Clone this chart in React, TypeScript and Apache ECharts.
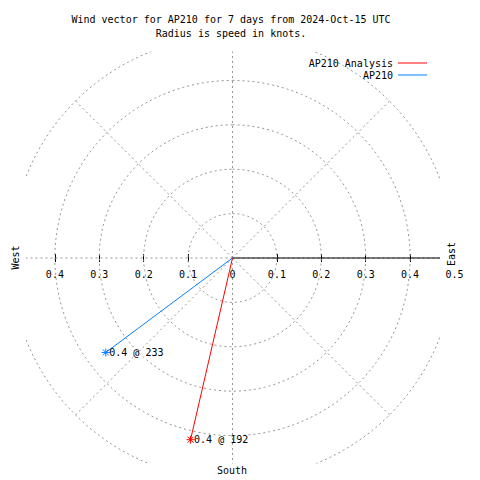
import React, { useEffect, useRef } from "react";
import * as echarts from "echarts";

const FONT = '"DejaVu Sans Mono", monospace';

const titleLines = [
  "Wind vector for AP210 for 7 days from 2024-Oct-15 UTC",
  "Radius is speed in knots.",
];
const seriesNames = ["AP210 Analysis", "AP210"];
const speeds = [0.42, 0.356];
const directions = [193, 233.3];
const pointLabels = ["0.4 @ 192", "0.4 @ 233"];
const seriesColors = ["#ff0000", "#0080ff"];
const ringRadii = [0.1, 0.2, 0.3, 0.4, 0.5];
const spokeAngles = [0, 45, 90, 135, 180, 225, 270, 315];
const tickLabelValues = [-0.4, -0.3, -0.2, -0.1, 0, 0.1, 0.2, 0.3, 0.4, 0.5];
const tickMarkValues = [-0.4, -0.3, -0.2, -0.1, 0.1, 0.2, 0.3, 0.4];
const compassLabels = ["West", "East", "South"];

const toRad = (d: number) => (d * Math.PI) / 180;

export default function App() {
  const ref = useRef<HTMLDivElement>(null);
  useEffect(() => {
    if (!ref.current) return;
    const chart = echarts.init(ref.current, null, { renderer: "svg" });

    const gridStyle = { color: "#959595", width: 1, type: [2, 3] as any };

    const ringSeries = ringRadii.map((r) => {
      const pts: number[][] = [];
      for (let a = 0; a <= 360; a += 2) {
        pts.push([r * Math.sin(toRad(a)), r * Math.cos(toRad(a))]);
      }
      return {
        type: "line",
        xAxisIndex: 0,
        yAxisIndex: 0,
        data: pts,
        showSymbol: false,
        silent: true,
        clip: true,
        lineStyle: gridStyle,
        z: 1,
      };
    });

    const spokeSeries = spokeAngles.map((a) => ({
      type: "line",
      xAxisIndex: 0,
      yAxisIndex: 0,
      data: [
        [0, 0],
        [0.5 * Math.sin(toRad(a)), 0.5 * Math.cos(toRad(a))],
      ],
      showSymbol: false,
      silent: true,
      clip: true,
      lineStyle: gridStyle,
      z: 1,
    }));

    const axisLineSeries = {
      type: "line",
      xAxisIndex: 0,
      yAxisIndex: 0,
      data: [
        [0, 0],
        [0.5, 0],
      ],
      showSymbol: false,
      silent: true,
      clip: true,
      lineStyle: { color: "#000", width: 1 },
      z: 2,
    };

    const dataSeries = seriesNames.map((name, i) => ({
      name,
      type: "line",
      coordinateSystem: "polar",
      polarIndex: 0,
      color: seriesColors[i],
      lineStyle: { color: seriesColors[i], width: 1 },
      symbol: "path://M4 0L4 8M0 4L8 4M1 1L7 7M1 7L7 1",
      symbolSize: 8,
      itemStyle: {
        color: seriesColors[i],
        borderColor: seriesColors[i],
        borderWidth: 1,
      },
      z: 5,
      data: [
        { value: [0, directions[i]], symbol: "none", label: { show: false } },
        {
          value: [speeds[i], directions[i]],
          label: {
            show: true,
            formatter: pointLabels[i],
            position: "right",
            distance: -1,
            color: "#000",
            fontFamily: FONT,
            fontSize: 10,
          },
        },
      ],
    }));

    const fmt = (v: number) => {
      const a = Math.abs(Math.round(v * 10) / 10);
      return a === 0 ? "0" : a.toFixed(1);
    };

    chart.setOption({
      animation: false,
      backgroundColor: "#fff",
      textStyle: { fontFamily: FONT },
      grid: [
        { left: 27, top: 52, width: 412, height: 411, containLabel: false },
        { left: 10.5, top: 254, width: 444, height: 8, containLabel: false },
      ],
      xAxis: [
        {
          gridIndex: 0,
          type: "value",
          min: -0.4628,
          max: 0.4651,
          show: false,
        },
        {
          gridIndex: 1,
          type: "value",
          min: -0.5,
          max: 0.5,
          position: "bottom",
          axisLine: { show: false },
          splitLine: { show: false },
          axisTick: {
            show: true,
            inside: true,
            length: 8,
            customValues: tickMarkValues,
            lineStyle: { color: "#000", width: 1 },
          },
          axisLabel: {
            show: true,
            formatter: fmt,
            customValues: tickLabelValues,
            margin: 7,
            color: "#000",
            fontFamily: FONT,
            fontSize: 10,
          },
        },
      ],
      yAxis: [
        { gridIndex: 0, type: "value", min: -0.4617, max: 0.464, show: false },
        { gridIndex: 1, type: "value", min: 0, max: 1, show: false },
      ],
      polar: { center: [232.5, 258], radius: 222 },
      radiusAxis: { type: "value", min: 0, max: 0.5, show: false },
      angleAxis: {
        type: "value",
        min: 0,
        max: 360,
        startAngle: 90,
        clockwise: true,
        show: false,
      },
      legend: {
        data: seriesNames,
        orient: "vertical",
        align: "right",
        right: 53,
        top: 57,
        padding: 0,
        itemGap: 0,
        itemWidth: 29,
        itemHeight: 1,
        icon: "rect",
        itemStyle: { borderWidth: 0 },
        lineStyle: { width: 0 },
        textStyle: {
          fontFamily: FONT,
          fontSize: 10,
          color: "#000",
          lineHeight: 12,
        },
      },
      graphic: [
        {
          type: "text",
          x: 231,
          y: 19,
          style: {
            text: titleLines[0],
            fill: "#000",
            font: `10px ${FONT}`,
            textAlign: "center",
            textVerticalAlign: "middle",
          },
        },
        {
          type: "text",
          x: 231,
          y: 33,
          style: {
            text: titleLines[1],
            fill: "#000",
            font: `10px ${FONT}`,
            textAlign: "center",
            textVerticalAlign: "middle",
          },
        },
        {
          type: "text",
          x: 15,
          y: 257.5,
          rotation: Math.PI / 2,
          style: {
            text: compassLabels[0],
            fill: "#000",
            font: `10px ${FONT}`,
            textAlign: "center",
            textVerticalAlign: "middle",
          },
        },
        {
          type: "text",
          x: 451,
          y: 254,
          rotation: Math.PI / 2,
          style: {
            text: compassLabels[1],
            fill: "#000",
            font: `10px ${FONT}`,
            textAlign: "center",
            textVerticalAlign: "middle",
          },
        },
        {
          type: "text",
          x: 232,
          y: 470,
          style: {
            text: compassLabels[2],
            fill: "#000",
            font: `10px ${FONT}`,
            textAlign: "center",
            textVerticalAlign: "middle",
          },
        },
      ],
      series: [...ringSeries, ...spokeSeries, axisLineSeries, ...dataSeries],
    });
    return () => chart.dispose();
  }, []);
  return (
    <div
      ref={ref}
      style={{ position: "absolute", left: 0, top: 0, width: 480, height: 480 }}
    />
  );
}
